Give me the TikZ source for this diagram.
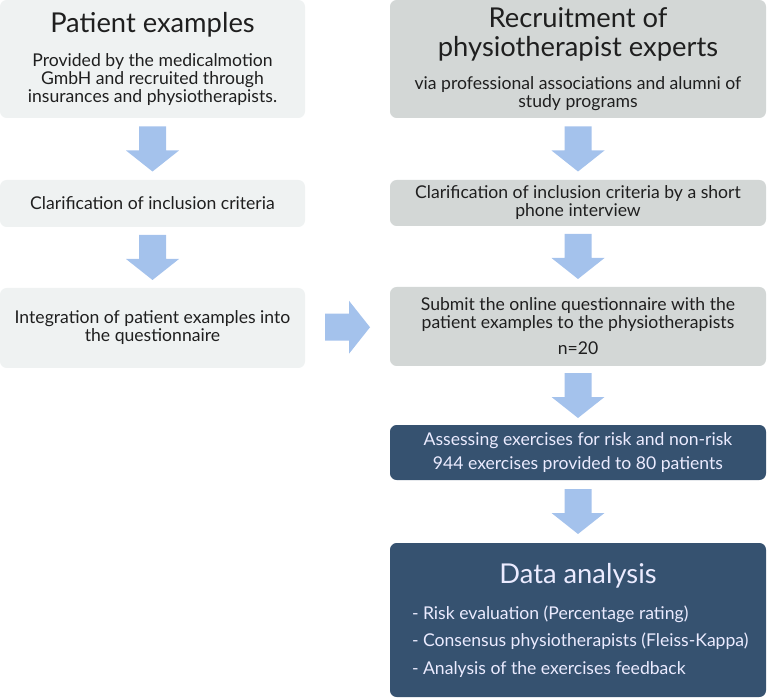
\documentclass[tikz,border=0pt]{standalone}
\usepackage{fontspec}
\setmainfont{Lato}
\usetikzlibrary{calc}

\definecolor{paleGray}{RGB}{239,242,242}
\definecolor{midGray}{RGB}{211,215,214}
\definecolor{navyBox}{RGB}{54,82,112}
\definecolor{arrowBlue}{RGB}{164,194,236}

\newcommand{\titlesize}{\fontsize{20.5}{22}\selectfont}
\newcommand{\bodysize}{\fontsize{13.2}{13.5}\selectfont}
\newcommand{\bulletline}[1]{\makebox[249pt][l]{#1}}

% fat arrow between two anchors, #1 = rotation
\newcommand{\fatarrow}[3][90]{%
  \begin{scope}[shift={($(#2)!0.5!(#3)$)}, rotate=#1]
    \fill[arrowBlue] (-22.5,-13.5) -- (1.5,-13.5) -- (1.5,-26.5) -- (22.5,0)
      -- (1.5,26.5) -- (1.5,13.5) -- (-22.5,13.5) -- cycle;
  \end{scope}}

\tikzset{
  box/.style={rectangle, rounded corners=5pt, inner sep=0pt, align=center,
    font=\bodysize, text=black!88},
  leftbox/.style={box, fill=paleGray, minimum width=228.75pt},
  rightbox/.style={box, fill=midGray, minimum width=282pt},
  darkbox/.style={box, fill=navyBox, minimum width=282pt, text=white!92!blue},
}

\begin{document}
\begin{tikzpicture}[x=0.75pt,y=0.75pt,yscale=-1,xscale=1]
\useasboundingbox (0,0) rectangle (767,698);

%left column
\node[leftbox, minimum height=88.5pt] (patients) at (152.5,59)
  {{\titlesize Patient examples}\\[12.5pt]
   Provided by the medicalmotion\\ GmbH and recruited through\\ insurances and physiotherapists.};
\node[leftbox, minimum height=35.25pt] (clarifyL) at (152.5,203.5)
  {Clarification of inclusion criteria};
\node[leftbox, minimum height=60pt] (integrate) at (152.5,328)
  {Integration of patient examples into\\ the questionnaire};

%right column
\node[rightbox, minimum height=88.5pt] (recruit) at (578,59)
  {{\titlesize Recruitment of}\\[5.5pt]{\titlesize physiotherapist experts}\\[11.25pt]
   via professional associations and alumni of\\ study programs};
\node[rightbox, minimum height=34.5pt] (clarifyR) at (578,203)
  {Clarification of inclusion criteria by a short\\ phone interview};
\node[rightbox, minimum height=59.25pt] (submit) at (578,326.5)
  {Submit the online questionnaire with the\\ patient examples to the physiotherapists\\[6pt] n=20};
\node[darkbox, minimum height=41.25pt] (assess) at (578,452.5)
  {Assessing exercises for risk and non-risk\\[4.5pt] 944 exercises provided to 80 patients};
\node[darkbox, minimum height=115.5pt] (analysis) at (578,620)
  {{\titlesize Data analysis}\\[12.5pt]
   \bulletline{- Risk evaluation (Percentage rating)}\\[7pt]
   \bulletline{- Consensus physiotherapists (Fleiss-Kappa)}\\[7pt]
   \bulletline{- Analysis of the exercises feedback}};

%arrows
\fatarrow{patients.south}{clarifyL.north}
\fatarrow{clarifyL.south}{integrate.north}
\fatarrow{recruit.south}{clarifyR.north}
\fatarrow{clarifyR.south}{submit.north}
\fatarrow{submit.south}{assess.north}
\fatarrow{assess.south}{analysis.north}
\fatarrow[0]{integrate.east}{submit.west}

\end{tikzpicture}
\end{document}
